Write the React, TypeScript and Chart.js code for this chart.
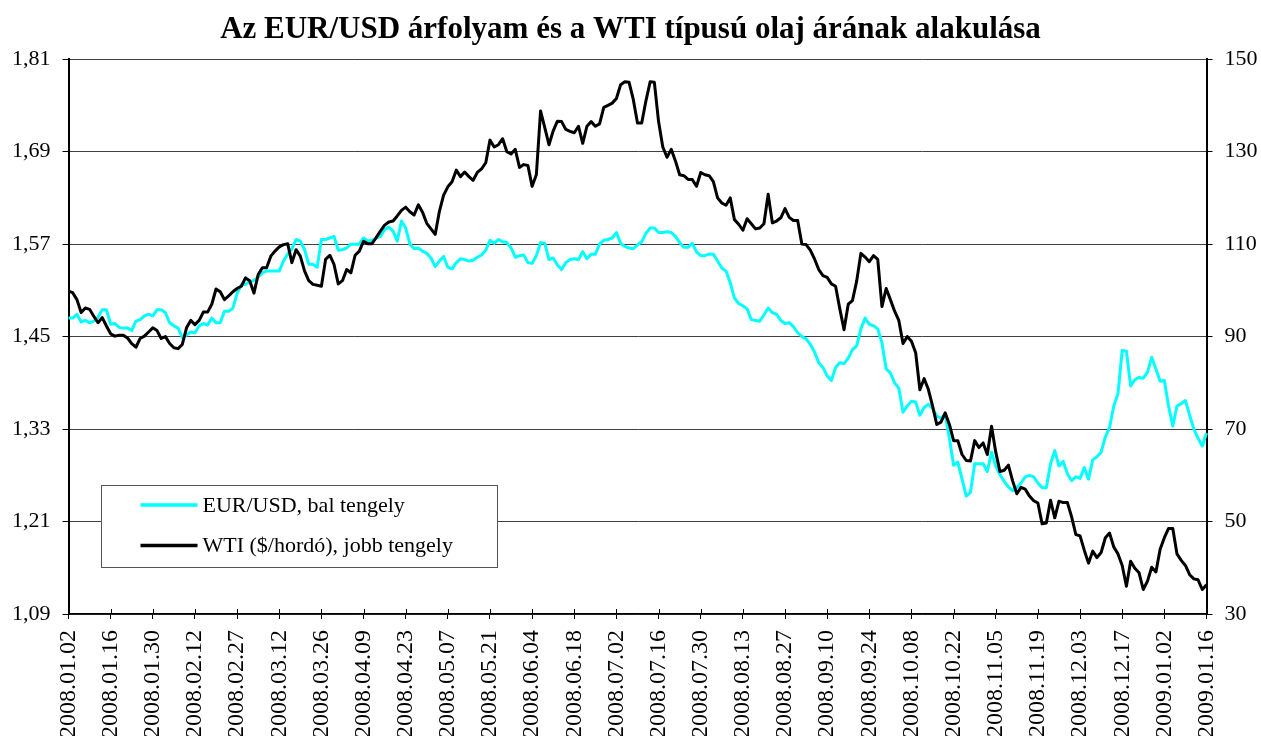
import React, { useEffect, useRef } from "react";
import { Chart, registerables } from "chart.js";

Chart.register(...registerables);

const titleText = "Az EUR/USD árfolyam és a WTI típusú olaj árának alakulása";

const tickDates = [
  "2008.01.02", "2008.01.16", "2008.01.30", "2008.02.12", "2008.02.27", "2008.03.12", "2008.03.26",
  "2008.04.09", "2008.04.23", "2008.05.07", "2008.05.21", "2008.06.04", "2008.06.18", "2008.07.02",
  "2008.07.16", "2008.07.30", "2008.08.13", "2008.08.27", "2008.09.10", "2008.09.24", "2008.10.08",
  "2008.10.22", "2008.11.05", "2008.11.19", "2008.12.03", "2008.12.17", "2009.01.02", "2009.01.16",
];

const leftTicks = [1.09, 1.21, 1.33, 1.45, 1.57, 1.69, 1.81];
const rightTicks = [30, 50, 70, 90, 110, 130, 150];

const eurUsd = [
  1.474, 1.474, 1.479, 1.469, 1.471, 1.468, 1.470, 1.475, 1.485, 1.485,
  1.466, 1.467, 1.462, 1.461, 1.461, 1.458, 1.470, 1.472, 1.477, 1.479,
  1.477, 1.485, 1.485, 1.481, 1.468, 1.464, 1.461, 1.449, 1.452, 1.456,
  1.455, 1.464, 1.467, 1.465, 1.474, 1.468, 1.468, 1.483, 1.483, 1.487,
  1.506, 1.517, 1.518, 1.521, 1.523, 1.527, 1.533, 1.535, 1.535, 1.535,
  1.535, 1.548, 1.557, 1.564, 1.576, 1.574, 1.563, 1.544, 1.544, 1.540,
  1.576, 1.576, 1.578, 1.580, 1.562, 1.563, 1.565, 1.570, 1.570, 1.570,
  1.578, 1.574, 1.575, 1.578, 1.580, 1.589, 1.592, 1.587, 1.574, 1.600,
  1.591, 1.570, 1.564, 1.565, 1.561, 1.558, 1.552, 1.541, 1.548, 1.554,
  1.540, 1.538, 1.546, 1.551, 1.550, 1.548, 1.549, 1.553, 1.556, 1.562,
  1.575, 1.571, 1.576, 1.573, 1.572, 1.565, 1.553, 1.555, 1.556, 1.546,
  1.545, 1.555, 1.572, 1.571, 1.550, 1.552, 1.543, 1.537, 1.546, 1.550,
  1.551, 1.550, 1.560, 1.551, 1.557, 1.557, 1.570, 1.575, 1.576, 1.578,
  1.585, 1.571, 1.567, 1.565, 1.564, 1.569, 1.573, 1.584, 1.591, 1.591,
  1.585, 1.585, 1.586, 1.585, 1.580, 1.572, 1.566, 1.566, 1.571, 1.560,
  1.555, 1.555, 1.557, 1.557, 1.548, 1.539, 1.535, 1.520, 1.500, 1.493,
  1.490, 1.486, 1.472, 1.471, 1.470, 1.478, 1.487, 1.481, 1.479, 1.471,
  1.467, 1.468, 1.463, 1.455, 1.450, 1.447, 1.440, 1.430, 1.416, 1.410,
  1.399, 1.393, 1.410, 1.416, 1.415, 1.422, 1.433, 1.438, 1.460, 1.474,
  1.466, 1.464, 1.460, 1.442, 1.408, 1.403, 1.390, 1.383, 1.352, 1.360,
  1.366, 1.365, 1.348, 1.358, 1.362, 1.357, 1.347, 1.344, 1.349, 1.318,
  1.283, 1.287, 1.265, 1.243, 1.248, 1.285, 1.285, 1.285, 1.275, 1.300,
  1.282, 1.271, 1.262, 1.255, 1.250, 1.254, 1.260, 1.268, 1.270, 1.268,
  1.260, 1.254, 1.254, 1.285, 1.302, 1.282, 1.288, 1.272, 1.263, 1.268,
  1.266, 1.280, 1.265, 1.290, 1.294, 1.300, 1.320, 1.332, 1.360, 1.376,
  1.432, 1.431, 1.386, 1.394, 1.397, 1.396, 1.404, 1.423, 1.408, 1.392,
  1.393, 1.360, 1.334, 1.360, 1.363, 1.367, 1.348, 1.330, 1.318, 1.308,
  1.325,
];

const wti = [
  99.8, 99.5, 98.0, 95.2, 96.2, 95.9, 94.4, 93.0, 94.1, 92.3,
  90.6, 90.1, 90.3, 90.3, 89.7, 88.5, 87.7, 89.6, 90.1, 91.0,
  91.9, 91.3, 89.6, 90.0, 88.5, 87.6, 87.4, 88.3, 91.9, 93.5,
  92.6, 93.5, 95.3, 95.3, 97.0, 100.3, 99.7, 98.0, 98.8, 99.7,
  100.4, 100.9, 102.7, 102.1, 99.4, 103.4, 104.9, 104.9, 107.4, 108.5,
  109.4, 109.9, 110.1, 106.0, 108.8, 107.4, 104.2, 102.1, 101.3, 101.1,
  100.9, 106.7, 107.6, 105.6, 101.4, 102.1, 104.5, 103.8, 107.6, 108.5,
  110.6, 110.1, 110.1, 111.4, 112.8, 114.1, 114.8, 115.0, 116.1, 117.3,
  118.0, 117.0, 116.3, 118.5, 116.9, 114.5, 113.3, 112.1, 117.1, 120.6,
  122.4, 123.5, 126.0, 124.6, 125.6, 124.6, 123.8, 125.5, 126.3, 127.6,
  132.5, 131.0, 131.5, 132.8, 130.0, 129.5, 130.5, 126.6, 127.2, 127.0,
  122.5, 125.0, 138.8, 135.2, 131.5, 134.5, 136.6, 136.5, 134.8, 134.4,
  134.1, 135.5, 131.8, 135.5, 136.5, 135.5, 136.0, 139.6, 140.0, 140.5,
  141.5, 144.5, 145.1, 145.0, 141.3, 136.2, 136.2, 141.0, 145.1, 145.0,
  136.5, 131.0, 128.8, 130.5, 128.0, 125.0, 124.8, 124.0, 124.0, 122.5,
  125.5, 125.0, 124.8, 123.5, 120.0, 118.9, 118.4, 120.0, 115.3, 114.3,
  113.0, 115.5, 114.4, 113.3, 113.5, 114.4, 120.8, 114.6, 115.0, 115.7,
  117.7, 115.8, 115.1, 115.1, 110.0, 109.9, 108.7, 106.8, 104.5, 103.2,
  102.8, 101.4, 100.9, 96.0, 91.5, 97.0, 97.8, 102.0, 108.0, 107.2,
  106.2, 107.5, 106.7, 96.5, 100.4, 98.0, 95.5, 93.5, 88.5, 90.0,
  89.0, 86.5, 78.5, 80.9, 78.6, 75.0, 71.0, 71.5, 73.5, 71.0,
  67.5, 67.5, 64.5, 63.2, 63.1, 67.5, 66.0, 67.0, 64.5, 70.6,
  65.0, 60.8, 61.1, 62.2, 58.8, 56.0, 57.4, 57.0, 55.5, 54.5,
  54.0, 49.5, 49.7, 54.6, 50.8, 54.4, 54.1, 54.1, 51.0, 47.2,
  46.9, 43.8, 41.0, 43.6, 42.2, 43.3, 46.5, 47.5, 44.5, 43.0,
  40.5, 36.0, 41.4, 39.9, 38.9, 35.3, 37.1, 40.1, 39.1, 44.0,
  46.5, 48.5, 48.5, 43.0, 41.6, 40.5, 38.5, 37.6, 37.4, 35.3,
  36.3,
];

const TICK_EVERY = 10;
const categories = eurUsd.map((_, i) => (i % TICK_EVERY === 0 ? tickDates[i / TICK_EVERY] ?? "" : ""));

const FONT = '"Liberation Serif", "Times New Roman", serif';

const crossTicksPlugin = {
  id: "crossTicks",
  afterDraw(chart: any) {
    const { ctx, chartArea } = chart;
    const xs = chart.scales.x;
    ctx.save();
    ctx.strokeStyle = "#000";
    ctx.lineWidth = 1;
    categories.forEach((c, i) => {
      if (!c) return;
      const px = Math.round(xs.getPixelForValue(i)) + 0.5;
      ctx.beginPath();
      ctx.moveTo(px, chartArea.bottom - 5);
      ctx.lineTo(px, chartArea.bottom);
      ctx.stroke();
    });
    ctx.restore();
  },
};

const boxLegendPlugin = {
  id: "boxLegend",
  afterDraw(chart: any) {
    const { ctx, chartArea } = chart;
    const x = Math.round(chartArea.left + 32) + 0.5;
    const y = Math.round(chartArea.bottom - 129) + 0.5;
    const w = 396;
    const h = 82;
    ctx.save();
    ctx.fillStyle = "#ffffff";
    ctx.fillRect(x, y, w, h);
    ctx.strokeStyle = "#555555";
    ctx.lineWidth = 1;
    ctx.strokeRect(x, y, w, h);
    chart.data.datasets.forEach((ds: any, k: number) => {
      const cy = y + 19.5 + k * 40.5;
      ctx.strokeStyle = ds.borderColor;
      ctx.lineWidth = 3.5;
      ctx.beginPath();
      ctx.moveTo(x + 39, cy);
      ctx.lineTo(x + 96, cy);
      ctx.stroke();
      ctx.fillStyle = "#000";
      ctx.font = `22px ${FONT}`;
      ctx.textBaseline = "middle";
      ctx.textAlign = "left";
      ctx.fillText(ds.label, x + 101, cy + 1);
    });
    ctx.restore();
  },
};

export default function App() {
  const canvasRef = useRef<HTMLCanvasElement | null>(null);

  useEffect(() => {
    const canvas = canvasRef.current;
    if (!canvas) return;
    const chart = new Chart(canvas, {
      type: "line",
      data: {
        labels: categories,
        datasets: [
          {
            label: "EUR/USD, bal tengely",
            data: eurUsd,
            yAxisID: "y",
            borderColor: "#00FFFF",
            backgroundColor: "#00FFFF",
            borderWidth: 3,
            pointRadius: 0,
            tension: 0,
            borderJoinStyle: "round",
            order: 1,
          },
          {
            label: "WTI ($/hordó), jobb tengely",
            data: wti,
            yAxisID: "y1",
            borderColor: "#000000",
            backgroundColor: "#000000",
            borderWidth: 3,
            pointRadius: 0,
            tension: 0,
            borderJoinStyle: "round",
            order: 0,
          },
        ],
      },
      options: {
        responsive: false,
        animation: false,
        events: [],
        layout: { padding: 0 },
        plugins: {
          legend: { display: false },
          tooltip: { enabled: false },
          title: {
            display: true,
            text: titleText,
            color: "#000",
            font: { family: FONT, size: 31, weight: "bold", lineHeight: 1.2 },
            padding: { top: 11, bottom: 11 },
          },
        },
        scales: {
          x: {
            type: "category",
            offset: false,
            afterFit: (scale: any) => {
              scale.height = 122;
            },
            grid: {
              drawOnChartArea: false,
              drawTicks: true,
              tickLength: 5,
              color: "#000",
            },
            border: { display: true, color: "#000", width: 1.5 },
            ticks: {
              autoSkip: false,
              maxRotation: 90,
              minRotation: 90,
              padding: 11,
              color: "#000",
              font: { family: FONT, size: 24 },
              callback: (value: any, index: number) => {
                const l = categories[index];
                return l ? l : null;
              },
            },
          },
          y: {
            type: "linear",
            position: "left",
            min: 1.09,
            max: 1.81,
            afterFit: (scale: any) => {
              scale.width = 68.5;
            },
            afterBuildTicks: (scale: any) => {
              scale.ticks = leftTicks.map((v) => ({ value: v }));
            },
            grid: {
              color: "#404040",
              lineWidth: 1,
              drawTicks: true,
              tickLength: 6,
              tickColor: "#000",
            },
            border: { display: true, color: "#000", width: 2 },
            ticks: {
              padding: 12,
              color: "#000",
              font: { family: FONT, size: 22 },
              callback: (value: any) => Number(value).toFixed(2).replace(".", ","),
            },
          },
          y1: {
            type: "linear",
            position: "right",
            min: 30,
            max: 150,
            afterFit: (scale: any) => {
              scale.width = 54.5;
            },
            afterBuildTicks: (scale: any) => {
              scale.ticks = rightTicks.map((v) => ({ value: v }));
            },
            grid: {
              drawOnChartArea: false,
              drawTicks: true,
              tickLength: 6,
              color: "#000",
            },
            border: { display: true, color: "#000", width: 2 },
            ticks: {
              padding: 12,
              color: "#000",
              font: { family: FONT, size: 22 },
              callback: (value: any) => String(value),
            },
          },
        },
      },
      plugins: [crossTicksPlugin, boxLegendPlugin],
    });
    return () => chart.destroy();
  }, []);

  return (
    <div style={{ position: "absolute", left: 0, top: 0, width: 1261, height: 736, background: "#fff", overflow: "hidden" }}>
      <canvas ref={canvasRef} width={1261} height={736} style={{ display: "block" }} />
    </div>
  );
}
